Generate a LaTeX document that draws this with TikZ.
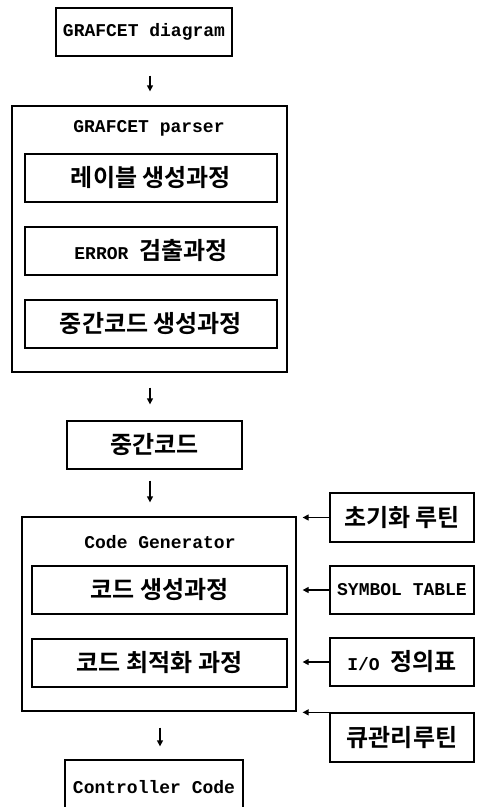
\documentclass[tikz,border=0pt]{standalone}
\usepackage{fontspec}
\setmainfont{Liberation Mono}
\newfontfamily\kr{Noto Sans CJK KR}[BoldFont={Noto Sans CJK KR Bold}]
\usetikzlibrary{arrows.meta}
\newcommand\krtxt{\fontsize{24}{26}\selectfont\kr\bfseries}
\tikzset{
  box/.style={draw, line width=1.3pt, inner sep=0pt, font=\fontsize{18}{20}\selectfont\bfseries},
  arr/.style={line width=1.3pt, -{Triangle[length=6pt,width=6pt]}},
  kor/.style={font=\krtxt},
  title/.style={font=\fontsize{18}{20}\selectfont\bfseries}
}
\begin{document}
\begin{tikzpicture}[x=1pt,y=-1pt]
\useasboundingbox (0,0) rectangle (477,807);
\clip (0,0) rectangle (477,807);
% top
\node[box, minimum width=176pt, minimum height=48pt] (gd) at (144,32) {GRAFCET diagram};
% parser
\node[box, minimum width=275pt, minimum height=266pt] (parser) at (149.5,239) {};
\node[title] (pt) at (149,128) {GRAFCET parser};
\node[box, kor, minimum width=252pt, minimum height=48pt] (p1) at (151,178) {레이블 생성과정};
\node[box, minimum width=252pt, minimum height=48pt] (p2) at (151,251) {ERROR {\krtxt 검출과정}};
\node[box, kor, minimum width=252pt, minimum height=48pt] (p3) at (151,324) {중간코드 생성과정};
% middle
\node[box, kor, minimum width=175pt, minimum height=48pt] (mid) at (154.5,445) {중간코드};
% code generator
\node[box, minimum width=274pt, minimum height=194pt] (cg) at (159,614) {};
\node[title] (ct) at (160,542) {Code Generator};
\node[box, kor, minimum width=255pt, minimum height=48pt] (c1) at (159.5,590) {코드 생성과정};
\node[box, kor, minimum width=255pt, minimum height=48pt] (c2) at (159.5,663) {코드 최적화 과정};
% right side
\node[box, kor, minimum width=144pt, minimum height=49pt] (r1) at (402,517.5) {초기화 루틴};
\node[box, minimum width=144pt, minimum height=48pt] (r2) at (402,590) {SYMBOL TABLE};
\node[box, minimum width=144pt, minimum height=48pt] (r3) at (402,662) {I/O {\krtxt 정의표}};
\node[box, kor, minimum width=144pt, minimum height=49pt] (r4) at (402,737.5) {큐관리루틴};
% output
\node[box, minimum width=178pt, minimum height=70pt] (cc) at (154,795) {};
\node[title] (cct) at (154,787) {Controller Code};
% connectors
\draw[arr, shorten <=19pt, shorten >=14pt] (gd.south -| 150,0) -- (parser.north -| 150,0);
\draw[arr, shorten <=15pt, shorten >=16pt] (parser.south -| 150,0) -- (mid.north -| 150,0);
\draw[arr, shorten <=11pt, shorten >=14pt] (mid.south -| 150,0) -- (cg.north -| 150,0);
\draw[arr, shorten <=16pt, shorten >=13pt] (cg.south -| 160,0) -- (cc.north -| 160,0);
\draw[arr, shorten >=6pt] (r1.west) -- (r1.west -| cg.east);
\draw[arr, shorten >=6pt] (r2.west) -- (r2.west -| cg.east);
\draw[arr, shorten >=6pt] (r3.west) -- (r3.west -| cg.east);
\draw[arr, shorten >=6pt] (r4.north west) -- (r4.north west -| cg.east);
\end{tikzpicture}
\end{document}
